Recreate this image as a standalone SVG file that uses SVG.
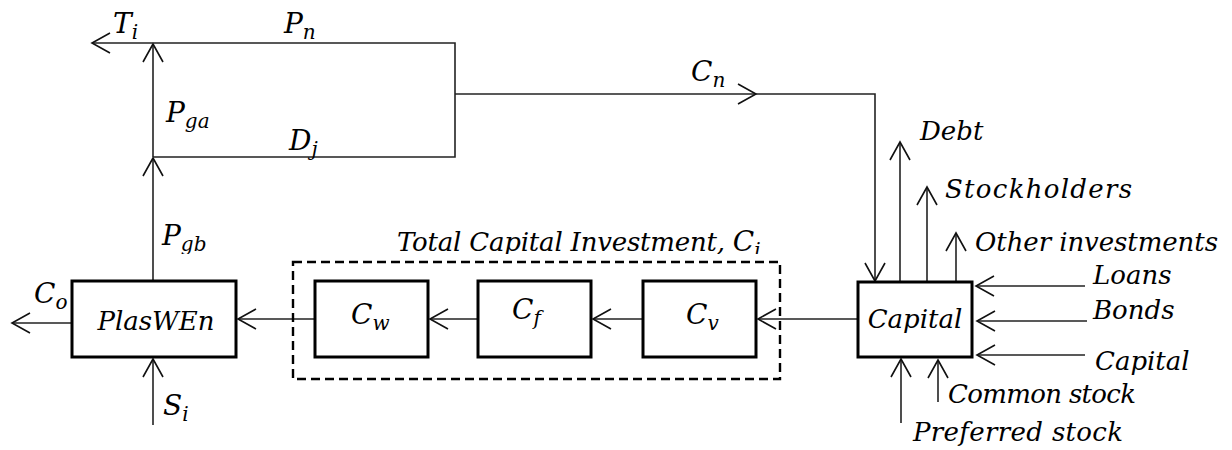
<svg xmlns="http://www.w3.org/2000/svg" width="1232" height="450" viewBox="0 0 1232 450">
<style>
text{font-family:"DejaVu Serif","Liberation Serif",serif;font-style:italic;font-size:26px;fill:#000}
.m{font-size:28px}
.sub{font-size:20px}
.ln{fill:none;stroke:#222;stroke-width:1.6}
.box{fill:#fff;stroke:#000;stroke-width:3}
.dash{fill:none;stroke:#000;stroke-width:2.4;stroke-dasharray:9 5}
</style>
<defs>
<marker id="ah" viewBox="-20 -12 22 24" markerWidth="22" markerHeight="24" refX="0" refY="0" orient="auto" markerUnits="userSpaceOnUse">
<path d="M-18,-10 L0,0 L-18,10" fill="none" stroke="#111" stroke-width="1.6"/>
</marker>
<clipPath id="cut"><rect x="0" y="0" width="1232" height="254"/></clipPath>
</defs>
<g id="connectors">
<line class="ln" x1="153" y1="281" x2="153" y2="158" marker-end="url(#ah)"/>
<line class="ln" x1="153" y1="157" x2="153" y2="44" marker-end="url(#ah)"/>
<line class="ln" x1="153" y1="43" x2="92" y2="43" marker-end="url(#ah)"/>
<polyline class="ln" points="153,43 455,43 455,157 153,157"/>
<line class="ln" x1="455" y1="94" x2="756" y2="94" marker-end="url(#ah)"/>
<polyline class="ln" points="756,94 875,94 875,281" marker-end="url(#ah)"/>
<line class="ln" x1="72" y1="323" x2="12" y2="323" marker-end="url(#ah)"/>
<line class="ln" x1="153" y1="425" x2="153" y2="359" marker-end="url(#ah)"/>
<line class="ln" x1="315" y1="319" x2="238" y2="319" marker-end="url(#ah)"/>
<line class="ln" x1="478" y1="319" x2="430" y2="319" marker-end="url(#ah)"/>
<line class="ln" x1="643" y1="319" x2="593" y2="319" marker-end="url(#ah)"/>
<line class="ln" x1="858" y1="319" x2="758" y2="319" marker-end="url(#ah)"/>
<line class="ln" x1="900" y1="282" x2="900" y2="142" marker-end="url(#ah)"/>
<line class="ln" x1="927" y1="282" x2="927" y2="187" marker-end="url(#ah)"/>
<line class="ln" x1="956" y1="282" x2="956" y2="233" marker-end="url(#ah)"/>
<line class="ln" x1="1085" y1="286" x2="976" y2="286" marker-end="url(#ah)"/>
<line class="ln" x1="1087" y1="321" x2="977" y2="321" marker-end="url(#ah)"/>
<line class="ln" x1="1085" y1="355" x2="977" y2="355" marker-end="url(#ah)"/>
<line class="ln" x1="901" y1="423" x2="901" y2="359" marker-end="url(#ah)"/>
<line class="ln" x1="938" y1="402" x2="938" y2="360" marker-end="url(#ah)"/>
</g>
<g id="labels">
<text class="m" x="113" y="33">T<tspan class="sub" dy="6">i</tspan></text>
<text class="m" x="284" y="33">P<tspan class="sub" dy="6">n</tspan></text>
<text class="m" x="166" y="122">P<tspan class="sub" dy="6">ga</tspan></text>
<text class="m" x="289" y="150">D<tspan class="sub" dy="6">j</tspan></text>
<text class="m" x="691" y="81">C<tspan class="sub" dy="6">n</tspan></text>
<text class="m" x="34" y="303">C<tspan class="sub" dy="6">o</tspan></text>
<text class="m" x="163" y="415">S<tspan class="sub" dy="6">i</tspan></text>
<text class="m" x="162" y="245" clip-path="url(#cut)">P<tspan class="sub" dy="6">gb</tspan></text>
<text x="920" y="140">Debt</text>
<text x="945" y="198" textLength="187">Stockholders</text>
<text x="975" y="251" textLength="243">Other investments</text>
<text x="1093" y="284">Loans</text>
<text x="1093" y="319">Bonds</text>
<text x="1095" y="370">Capital</text>
<text x="948" y="403" textLength="188">Common stock</text>
<text x="913" y="441" textLength="210">Preferred stock</text>
</g>
<g id="total-capital-investment">
<rect class="dash" x="293" y="262" width="487" height="117"/>
<text x="397" y="251" clip-path="url(#cut)"><tspan textLength="336">Total Capital Investment, </tspan><tspan class="m">C</tspan><tspan class="sub" dy="6">i</tspan></text>
</g>
<g id="plaswen">
<rect class="box" x="72" y="281" width="164" height="76"/>
<text x="156" y="330" text-anchor="middle">PlasWEn</text>
</g>
<g id="cw">
<rect class="box" x="315" y="281" width="113" height="76"/>
<text class="m" x="351" y="324">C<tspan class="sub" dy="6">w</tspan></text>
</g>
<g id="cf">
<rect class="box" x="478" y="281" width="113" height="76"/>
<text class="m" x="512" y="319">C<tspan class="sub" dy="6">f</tspan></text>
</g>
<g id="cv">
<rect class="box" x="643" y="281" width="113" height="76"/>
<text class="m" x="686" y="324">C<tspan class="sub" dy="6">v</tspan></text>
</g>
<g id="capital">
<rect class="box" x="858" y="282" width="114" height="75"/>
<text x="915" y="328" text-anchor="middle">Capital</text>
</g>
</svg>
